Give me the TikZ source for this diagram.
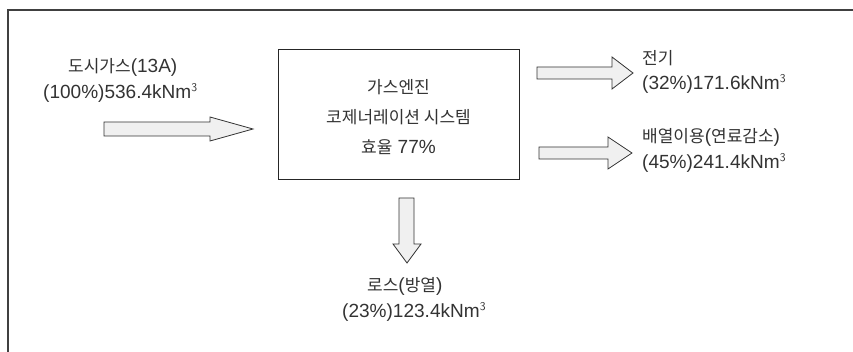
\documentclass[tikz,border=0pt]{standalone}
\usepackage{fontspec}
\setmainfont{Liberation Sans}[Scale=1.12]
\newfontfamily\kr{Noto Sans CJK KR}
\begin{document}
\begin{tikzpicture}[x=1pt,y=-1pt,
  txt/.style={inner sep=0pt,font=\fontsize{17}{26}\selectfont,text=black!80},
  blk/.style={draw=black!80,line width=0.8pt,fill=black!6,line join=miter},
  frame/.style={draw=black!75,line width=1.1pt}]
\useasboundingbox (0,0) rectangle (853,352);
% frame (only top and left visible)
\coordinate (fTL) at (8,10);
\coordinate (fTR) at (853,10);
\coordinate (fBL) at (8,352);
\draw[frame] (fBL) -- (fTL) -- (fTR);
% central box
\node[draw=black!85,line width=1pt,minimum width=241pt,minimum height=130pt,inner sep=0pt] (box) at (398.5,115) {};
\node[txt,anchor=center] (b1) at (398.5,87) {\kr 가스엔진};
\node[txt,anchor=center] (b2) at (398.5,117) {\kr 코제너레이션 시스템};
\node[txt,anchor=center] (b3) at (398.5,147) {{\kr 효율} 77\%};
% input text
\node[txt,anchor=west] (in1) at (68,67) {{\kr 도시가스}(13A)};
\node[txt,anchor=west] (in2) at (43,93) {(100\%)536.4kNm$^{\mathsf{3}}$};
% output texts
\node[txt,anchor=west] (o1a) at (642,58) {\kr 전기};
\node[txt,anchor=west] (o1b) at (642,84) {(32\%)171.6kNm$^{\mathsf{3}}$};
\node[txt,anchor=west] (o2a) at (642,137) {{\kr 배열이용}({\kr 연료감소})};
\node[txt,anchor=west] (o2b) at (642,163) {(45\%)241.4kNm$^{\mathsf{3}}$};
\node[txt,anchor=west] (l1) at (367,286) {{\kr 로스}({\kr 방열})};
\node[txt,anchor=west] (l2) at (342,312) {(23\%)123.4kNm$^{\mathsf{3}}$};
% block arrows
\draw[blk] (104,122) -- (210,122) -- (210,117) -- (253,129) -- (210,141) -- (210,136) -- (104,136) -- cycle;
\draw[blk] (537,67) -- (612,67) -- (612,57) -- (633,73) -- (612,89) -- (612,79) -- (537,79) -- cycle;
\draw[blk] (539,147) -- (608,147) -- (608,137) -- (632,153) -- (608,169) -- (608,159) -- (539,159) -- cycle;
\draw[blk] (399,198) -- (414,198) -- (414,244) -- (421,244) -- (407,263) -- (393,244) -- (399,244) -- cycle;
\end{tikzpicture}
\end{document}
